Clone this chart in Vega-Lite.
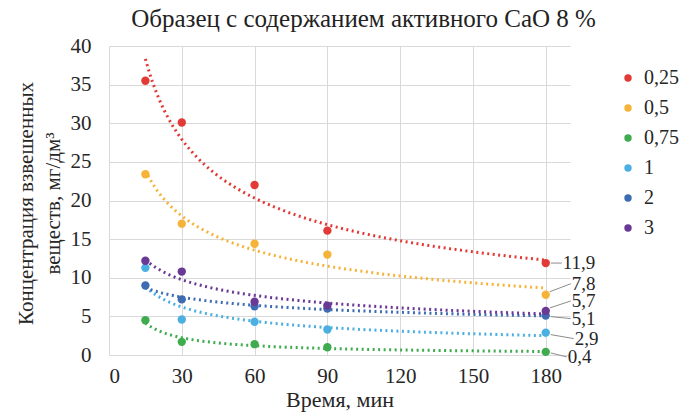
{
  "$schema": "https://vega.github.io/schema/vega-lite/v6.json",
  "width": 461,
  "height": 309,
  "autosize": {"type": "none"},
  "padding": {"left": 109, "top": 46, "right": 111, "bottom": 62},
  "background": "white",
  "config": {
    "locale": {"number": {"decimal": ",", "thousands": " ", "grouping": [3], "currency": ["", ""]}},
    "view": {"stroke": null},
    "font": "Liberation Serif, Times New Roman, serif"
  },
  "title": {"text": "Образец с содержанием активного CaO 8 %", "font": "Liberation Serif, Times New Roman, serif", "fontSize": 25, "fontWeight": "normal", "color": "#222222", "anchor": "middle", "dx": 24, "offset": 3},
  "data": {"values": [
    {"s": "0,25", "x": 15, "y": 35.5}, {"s": "0,25", "x": 30, "y": 30.1}, {"s": "0,25", "x": 60, "y": 22.0}, {"s": "0,25", "x": 90, "y": 16.1}, {"s": "0,25", "x": 180, "y": 11.9},
    {"s": "0,5", "x": 15, "y": 23.4}, {"s": "0,5", "x": 30, "y": 17.0}, {"s": "0,5", "x": 60, "y": 14.4}, {"s": "0,5", "x": 90, "y": 13.0}, {"s": "0,5", "x": 180, "y": 7.8},
    {"s": "0,75", "x": 15, "y": 4.5}, {"s": "0,75", "x": 30, "y": 1.7}, {"s": "0,75", "x": 60, "y": 1.4}, {"s": "0,75", "x": 90, "y": 1.0}, {"s": "0,75", "x": 180, "y": 0.4},
    {"s": "1", "x": 15, "y": 11.3}, {"s": "1", "x": 30, "y": 4.6}, {"s": "1", "x": 60, "y": 4.3}, {"s": "1", "x": 90, "y": 3.3}, {"s": "1", "x": 180, "y": 2.9},
    {"s": "2", "x": 15, "y": 9.0}, {"s": "2", "x": 30, "y": 7.2}, {"s": "2", "x": 60, "y": 6.3}, {"s": "2", "x": 90, "y": 6.0}, {"s": "2", "x": 180, "y": 5.1},
    {"s": "3", "x": 15, "y": 12.2}, {"s": "3", "x": 30, "y": 10.8}, {"s": "3", "x": 60, "y": 6.9}, {"s": "3", "x": 90, "y": 6.4}, {"s": "3", "x": 180, "y": 5.7}
  ]},
  "encoding": {
    "x": {"field": "x", "type": "quantitative", "scale": {"domain": [0, 190], "nice": false},
      "axis": {"values": [0, 30, 60, 90, 120, 150, 180], "title": "Время, мин", "labelFont": "Liberation Serif, Times New Roman, serif", "titleFont": "Liberation Serif, Times New Roman, serif", "labelFontSize": 21, "titleFontSize": 22, "titleFontWeight": "normal", "labelColor": "#262626", "titleColor": "#262626", "gridColor": "#d9d9d9", "domain": false, "ticks": false, "labelPadding": 10, "titlePadding": 3, "grid": true}},
    "y": {"field": "y", "type": "quantitative", "scale": {"domain": [0, 40], "nice": false},
      "axis": {"values": [0, 5, 10, 15, 20, 25, 30, 35, 40], "title": ["Концентрация взвешенных", "веществ, мг/дм³"], "labelFont": "Liberation Serif, Times New Roman, serif", "titleFont": "Liberation Serif, Times New Roman, serif", "labelFontSize": 21, "titleFontSize": 21, "titleFontWeight": "normal", "labelColor": "#262626", "titleColor": "#262626", "gridColor": "#d9d9d9", "domain": false, "ticks": false, "labelPadding": 18, "titleX": -83, "titleY": 157, "titleBaseline": "middle", "titleAlign": "center", "titleAngle": -90, "titleLineHeight": 27, "grid": true}}
  },
  "layer": [
    {
      "transform": [{"regression": "y", "on": "x", "method": "pow", "groupby": ["s"]}],
      "mark": {"type": "line", "strokeDash": [2, 3.5], "strokeWidth": 3, "clip": false},
      "encoding": {"color": {"field": "s", "type": "nominal",
        "scale": {"domain": ["0,25", "0,5", "0,75", "1", "2", "3"], "range": ["#e23a36", "#f6b33a", "#3fab4f", "#4cafe2", "#3d6cb3", "#6a3996"]}}}
    },
    {
      "mark": {"type": "point", "filled": true, "size": 70, "opacity": 1},
      "encoding": {"color": {"field": "s", "type": "nominal", "legend": {"title": null, "orient": "none", "legendX": 509, "legendY": 22, "labelFont": "Liberation Serif, Times New Roman, serif", "labelColor": "#262626", "labelFontSize": 20, "symbolSize": 55, "symbolType": "circle", "symbolStrokeWidth": 0, "symbolOpacity": 1, "rowPadding": 10, "padding": 0, "labelOffset": 6}}}
    },
    {"transform": [{"filter": "datum.s == '0,25' && datum.x == 180"}], "mark": {"type": "rule", "strokeWidth": 1, "xOffset": 5, "yOffset": 0, "x2Offset": 16, "y2Offset": 0}, "encoding": {"x2": {"field": "x"}, "y2": {"field": "y"}, "color": {"value": "#8c8c8c"}}},
    {"transform": [{"filter": "datum.s == '0,25' && datum.x == 180"}], "mark": {"type": "text", "font": "Liberation Serif, Times New Roman, serif", "align": "left", "baseline": "middle", "dx": 17, "dy": 0, "fontSize": 19}, "encoding": {"text": {"field": "y", "type": "quantitative", "format": ".1f"}, "color": {"value": "#262626"}}},
    {"transform": [{"filter": "datum.s == '0,5' && datum.x == 180"}], "mark": {"type": "rule", "strokeWidth": 1, "xOffset": 4, "yOffset": -3, "x2Offset": 25, "y2Offset": -11}, "encoding": {"x2": {"field": "x"}, "y2": {"field": "y"}, "color": {"value": "#8c8c8c"}}},
    {"transform": [{"filter": "datum.s == '0,5' && datum.x == 180"}], "mark": {"type": "text", "font": "Liberation Serif, Times New Roman, serif", "align": "left", "baseline": "middle", "dx": 26, "dy": -11, "fontSize": 19}, "encoding": {"text": {"field": "y", "type": "quantitative", "format": ".1f"}, "color": {"value": "#262626"}}},
    {"transform": [{"filter": "datum.s == '3' && datum.x == 180"}], "mark": {"type": "rule", "strokeWidth": 1, "xOffset": 4, "yOffset": -3, "x2Offset": 25, "y2Offset": -10}, "encoding": {"x2": {"field": "x"}, "y2": {"field": "y"}, "color": {"value": "#8c8c8c"}}},
    {"transform": [{"filter": "datum.s == '3' && datum.x == 180"}], "mark": {"type": "text", "font": "Liberation Serif, Times New Roman, serif", "align": "left", "baseline": "middle", "dx": 26, "dy": -10, "fontSize": 19}, "encoding": {"text": {"field": "y", "type": "quantitative", "format": ".1f"}, "color": {"value": "#262626"}}},
    {"transform": [{"filter": "datum.s == '2' && datum.x == 180"}], "mark": {"type": "rule", "strokeWidth": 1, "xOffset": 5, "yOffset": 1, "x2Offset": 25, "y2Offset": 3}, "encoding": {"x2": {"field": "x"}, "y2": {"field": "y"}, "color": {"value": "#8c8c8c"}}},
    {"transform": [{"filter": "datum.s == '2' && datum.x == 180"}], "mark": {"type": "text", "font": "Liberation Serif, Times New Roman, serif", "align": "left", "baseline": "middle", "dx": 26, "dy": 3, "fontSize": 19}, "encoding": {"text": {"field": "y", "type": "quantitative", "format": ".1f"}, "color": {"value": "#262626"}}},
    {"transform": [{"filter": "datum.s == '1' && datum.x == 180"}], "mark": {"type": "rule", "strokeWidth": 1, "xOffset": 5, "yOffset": 2, "x2Offset": 28, "y2Offset": 6}, "encoding": {"x2": {"field": "x"}, "y2": {"field": "y"}, "color": {"value": "#8c8c8c"}}},
    {"transform": [{"filter": "datum.s == '1' && datum.x == 180"}], "mark": {"type": "text", "font": "Liberation Serif, Times New Roman, serif", "align": "left", "baseline": "middle", "dx": 29, "dy": 6, "fontSize": 19}, "encoding": {"text": {"field": "y", "type": "quantitative", "format": ".1f"}, "color": {"value": "#262626"}}},
    {"transform": [{"filter": "datum.s == '0,75' && datum.x == 180"}], "mark": {"type": "rule", "strokeWidth": 1, "xOffset": 5, "yOffset": 1, "x2Offset": 21, "y2Offset": 5}, "encoding": {"x2": {"field": "x"}, "y2": {"field": "y"}, "color": {"value": "#8c8c8c"}}},
    {"transform": [{"filter": "datum.s == '0,75' && datum.x == 180"}], "mark": {"type": "text", "font": "Liberation Serif, Times New Roman, serif", "align": "left", "baseline": "middle", "dx": 22, "dy": 5, "fontSize": 19}, "encoding": {"text": {"field": "y", "type": "quantitative", "format": ".1f"}, "color": {"value": "#262626"}}}
  ]
}
